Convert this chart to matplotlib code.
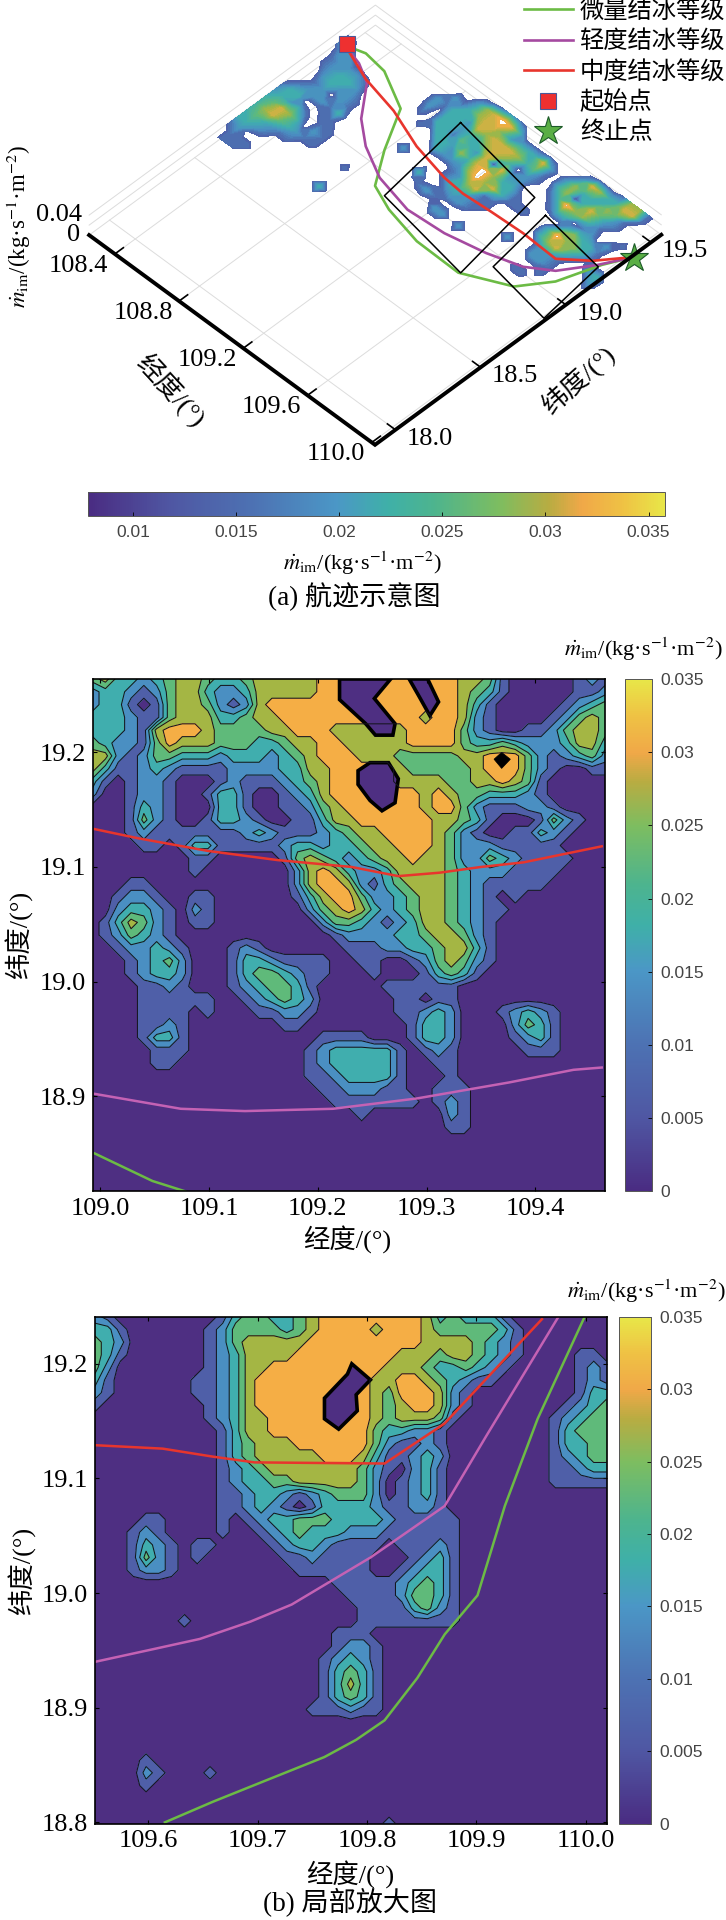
import numpy as np
import matplotlib
matplotlib.use("Agg")
import matplotlib.pyplot as plt
from matplotlib.cm import ScalarMappable
from matplotlib.colors import LinearSegmentedColormap, Normalize
from matplotlib.lines import Line2D
from matplotlib.transforms import Affine2D

plt.rcParams['font.family'] = ['Liberation Serif', 'Noto Sans CJK SC']
plt.rcParams['mathtext.fontset'] = 'stix'
plt.rcParams['axes.unicode_minus'] = False

W, H = 726, 1920
CB_LABEL = r'$\dot{m}_{\rm im}$/(kg·s$^{-1}$·m$^{-2}$)'

# ------------------------------------------------------------
# Data. One digit = one grid cell, value = digit * 0.005
# ------------------------------------------------------------
surf_lon = np.arange(38) * 0.05 + 108.2
surf_lat = 19.6 - np.arange(20) * 0.05
surf_rows = [
    "0000000000 0000001210 0000000000 01551000",
    "0000000000 0000256763 0000000265 33661000",
    "0000000000 0021356642 3336202533 35410000",
    "0000000000 0213326566 6534103503 64210000",
    "2200000000 0203323356 5302101375 53100100",
    "0220000000 0103314326 0622000133 01202000",
    "0122210000 0010332536 7533100000 35331000",
    "0123320000 0000032225 7563111003 75531000",
    "0023221000 0000000012 5611000003 56310230",
    "0012021000 0002000013 3211000000 22100020",
    "0122213000 0000003001 2210000200 22100000",
    "1330011000 0000000121 0000000000 00100000",
    "2323101100 0000000000 2202000000 11000000",
    "3465302100 0000000000 0000000000 00000000",
    "3564321100 0100000000 0000000000 00000000",
    "3432110000 0000000000 0000000000 00000000",
    "3321000000 0000000000 0000000000 00000000",
    "1200000000 0300000000 0000000000 00000000",
    "0111000000 0000000000 0000000000 00000000",
    "0110000000 0000000000 0000000000 00000000",
]

box_lon = np.linspace(108.993, 109.464, 41)
box_lat = np.linspace(19.264, 18.817, 41)
box_rows = [
    "4533234554 3345555566 6666666665 5410000012 1",
    "2332124553 2235555566 6666666665 4310000011 2",
    "2331014554 2125666666 6666666665 3100000123 4",
    "3332114555 3345566666 6666665665 2100001245 4",
    "3332156665 4444556665 5555566664 2100112455 4",
    "4322146555 4443345566 5555566664 3343222355 3",
    "5521244333 2333234566 6555444445 5666421234 2",
    "5311232111 1222233556 6666544444 5666421001 1",
    "3101221000 1211123456 6666555544 5565410000 0",
    "2001221001 3310012356 6666665654 4333210000 0",
    "0001321000 3310011245 6666665664 2111221000 0",
    "0001421001 3321001135 5666666554 3100014210 0",
    "0001211111 1123211123 4556666542 1001132100 0",
    "0000110133 1111123323 3455666542 2211111000 0",
    "0000000011 0000014543 2345565542 2432111100 0",
    "0000000010 0000002565 3223555543 2221111000 0",
    "0001100000 0000002566 5213455543 2111110000 0",
    "0012210011 0000001356 6422345543 2101000000 0",
    "0023321021 0000000245 6532345543 2110000000 0",
    "0135421011 0000000024 4321235543 2100000000 0",
    "0124321000 0000000001 2222334554 2100000000 0",
    "0012232100 0121000000 1112233455 3100000000 0",
    "0001234200 0133211110 0110012454 2100000000 0",
    "0001233200 0134432110 0010001343 1000000000 0",
    "0000112100 0123443100 0001111110 0000000000 0",
    "0000111111 0012343200 0000110110 0000000000 0",
    "0000111101 0001122100 0000112320 0012321000 0",
    "0000112100 0000011000 0000013320 0002431000 0",
    "0000133100 0000000011 1100013320 0001231000 0",
    "0000011100 0000000123 3333101210 0000111000 0",
    "0000011000 0000000123 3333100110 0000000000 0",
    "0000000000 0000000112 3333100010 0000000000 0",
    "0000000000 0000000011 2221100111 0000000000 0",
    "0000000000 0000000001 1111110121 0000000000 0",
    "0000000000 0000000000 0100000021 0000000000 0",
    "0000000000 0000000000 0000000011 0000000000 0",
    "0000000000 0000000000 0000000000 0000000000 0",
    "0000000000 0000000000 0000000000 0000000000 0",
    "0000000000 0000000000 0000000000 0000000000 0",
    "0000000000 0000000000 0000000000 0000000000 0",
    "0000000000 0000000000 0000000000 0000000000 0",
]
# low cells inside the orange, black rimmed in the picture (lon list, lat list)
box_holes = [
    ([109.220, 109.220, 109.244, 109.253, 109.269, 109.271, 109.252, 109.267],
     [19.264, 19.246, 19.225, 19.215, 19.215, 19.225, 19.247, 19.264]),
    ([109.284, 109.293, 109.303, 109.311, 109.301], [19.264, 19.249, 19.232, 19.244, 19.264]),
    ([109.248, 109.265, 109.274, 109.271, 109.259, 109.248, 109.237, 109.237],
     [19.191, 19.191, 19.177, 19.156, 19.149, 19.158, 19.172, 19.184]),
]
box_peak_lon = [109.369, 109.377, 109.369, 109.362]
box_peak_lat = [19.200, 19.194, 19.186, 19.194]

zoom_lon = np.linspace(109.551, 110.019, 41)
zoom_lat = np.linspace(19.241, 18.799, 41)
zoom_rows = [
    "2100000000 1344334566 6666665343 3310000000 0",
    "3310000001 2444434566 6656665444 4431000000 0",
    "4320000001 2455555666 6666665555 4321000000 0",
    "4310000001 2355556666 6666555455 4321000011 0",
    "4200000001 2355666666 6665554334 3210000012 1",
    "3100000011 2356666666 6655665432 1100000012 1",
    "2100000011 2356666666 6654666521 0000000013 3",
    "1000000001 2356666666 6654566521 0000000123 4",
    "0000000001 2355666666 6654555410 0000001234 4",
    "0000000000 1355666666 6643322100 0000001344 4",
    "0000000000 1345556666 6642112100 0000001334 4",
    "0000000000 1345555566 6531123200 0000001234 4",
    "0000000000 1234555555 5421023100 0000001123 3",
    "0000000000 1233445555 5420123100 0000001111 1",
    "0000000000 1123321234 4420123100 0000000000 0",
    "0000000000 1123210133 3321122100 0000000000 0",
    "0000110000 1012334443 3332111110 0000000000 0",
    "0001210000 1001234333 2221111110 0000000000 0",
    "0001321011 0000123321 1110111210 0000000000 0",
    "0001421010 0000011211 1100012310 0000000000 0",
    "0001221000 0000001111 1100123310 0000000000 0",
    "0000000000 0000000001 1111234310 0000000000 0",
    "0000000000 0000000000 1111244310 0000000000 0",
    "0000000000 0000000000 0111134210 0000000000 0",
    "0000000100 0000000000 0111111110 0000000000 0",
    "0000000000 0000000001 1100000000 0000000000 0",
    "0000000000 0000000001 2210000000 0000000000 0",
    "0000000000 0000000012 3210000000 0000000000 0",
    "0000000000 0000000013 4310000000 0000000000 0",
    "0000000000 0000000013 5310000000 0000000000 0",
    "0000000000 0000000013 4310000000 0000000000 0",
    "0000000000 0000000111 2110000000 0000000000 0",
    "0000000000 0000000000 0000000000 0000000000 0",
    "0000000000 0000000000 0000000000 0000000000 0",
    "0000000000 0000000000 0000000000 0000000000 0",
    "0000100000 0000000000 0000000000 0000000000 0",
    "0000210001 0000000000 0000000000 0000000000 0",
    "0000100000 0000000000 0000000000 0000000000 0",
    "0000000000 0000000000 0000000000 0000000000 0",
    "0000000000 0000000000 0000000000 0000000000 0",
    "0000000000 0000000000 0001000000 0000000000 0",
]
zoom_holes = [
    ([109.786, 109.803, 109.790, 109.791, 109.774, 109.761, 109.761, 109.782],
     [19.200, 19.186, 19.173, 19.159, 19.143, 19.152, 19.170, 19.191]),
]

# tracks on the overview (lon, lat)
green_lon = [108.231, 108.330, 108.463, 108.673, 108.799, 108.921, 109.065, 109.286, 109.549, 109.781, 109.889, 109.963, 110.030]
green_lat = [19.390, 19.419, 19.402, 19.300, 19.086, 18.916, 18.862, 18.817, 18.813, 18.921, 19.063, 19.266, 19.392]
purple_lon = [108.231, 108.351, 108.459, 108.593, 108.724, 108.901, 109.123, 109.338, 109.552, 109.726, 109.844, 109.949, 110.030]
purple_lat = [19.390, 19.359, 19.304, 19.144, 19.047, 18.962, 18.916, 18.930, 18.973, 19.027, 19.106, 19.252, 19.392]
red_lon = [108.231, 108.439, 108.660, 108.883, 109.103, 109.228, 109.390, 109.583, 109.793, 109.917, 110.030]
red_lat = [19.390, 19.316, 19.271, 19.196, 19.152, 19.143, 19.153, 19.161, 19.154, 19.255, 19.392]
box1_lon = [108.919, 109.468, 109.557, 108.992, 108.919]
box1_lat = [19.420, 19.338, 18.819, 18.904, 19.420]
box2_lon = [109.577, 109.960, 110.009, 109.632, 109.577]
box2_lat = [19.298, 19.247, 18.882, 18.939, 19.298]
start_lon, start_lat = 108.231, 19.399
end_lon, end_lat = 110.033, 19.389

# tracks on panel 2
p2_red_lon = [108.995, 109.035, 109.099, 109.163, 109.231, 109.274, 109.312, 109.350, 109.389, 109.461]
p2_red_lat = [19.133, 19.125, 19.114, 19.106, 19.100, 19.092, 19.095, 19.100, 19.104, 19.118]
p2_purple_lon = [108.995, 109.074, 109.133, 109.214, 109.291, 109.376, 109.435, 109.461]
p2_purple_lat = [18.902, 18.889, 18.887, 18.889, 18.898, 18.912, 18.923, 18.925]
p2_green_lon = [108.995, 109.048, 109.078]
p2_green_lat = [18.850, 18.826, 18.817]

# tracks on panel 3
p3_red_lon = [109.551, 109.613, 109.659, 109.697, 109.816, 109.871, 109.960]
p3_red_lat = [19.129, 19.126, 19.119, 19.114, 19.113, 19.148, 19.239]
p3_purple_lon = [109.551, 109.604, 109.647, 109.693, 109.731, 109.803, 109.871, 109.909, 109.975]
p3_purple_lat = [18.940, 18.951, 18.960, 18.975, 18.990, 19.031, 19.076, 19.137, 19.241]
p3_green_lon = [109.615, 109.659, 109.706, 109.761, 109.790, 109.816, 109.846, 109.871, 109.901, 109.926, 109.956, 109.999]
p3_green_lat = [18.800, 18.818, 18.836, 18.857, 18.872, 18.889, 18.926, 18.964, 18.998, 19.076, 19.152, 19.241]

map_lon_ticks = [108.4, 108.8, 109.2, 109.6, 110.0]
map_lat_ticks = [18.0, 18.5, 19.0, 19.5]
cb_ticks = [0, 0.005, 0.01, 0.015, 0.02, 0.025, 0.03, 0.035]
cb_labels = ['0', '0.005', '0.01', '0.015', '0.02', '0.025', '0.03', '0.035']
map_cb_ticks = [0.01, 0.015, 0.02, 0.025, 0.03, 0.035]
map_cb_labels = ['0.01', '0.015', '0.02', '0.025', '0.03', '0.035']

# colours
band_colors = ['#4e2f82', '#4f5fa8', '#4a8fc2', '#40aeae', '#5fba7a', '#a4b644', '#f5ae45']
bar_cmap = LinearSegmentedColormap.from_list('icing', [
    (0.0, '#4a2c82'), (0.143, '#4f57a3'), (0.286, '#4d72b3'), (0.43, '#4b97c6'),
    (0.52, '#3fb0a8'), (0.6, '#4db48e'), (0.714, '#7dbd60'), (0.8, '#b8ac42'),
    (0.857, '#f0a848'), (0.93, '#efc244'), (1.0, '#e8e648')])
surf_cmap = LinearSegmentedColormap.from_list('surf', band_colors[1:])
GREEN, PURPLE, RED = '#6cbb45', '#a54aa0', '#e8352d'
PURPLE_P = '#c462b4'
SANS = ['Liberation Sans']


def parse(rows):
    return np.array([[int(c) for c in r.replace(' ', '')] for r in rows], dtype=float) * 0.005


def px_axes(fig, left, top, right, bottom):
    return fig.add_axes([left / W, 1 - bottom / H, (right - left) / W, (bottom - top) / H])


def draw_panel(ax, lon, lat, rows, holes, xticks, yticks, xlim, ylim):
    z = parse(rows)
    levels = [-0.001] + [k * 0.005 + 0.0025 for k in range(6)] + [0.04]
    ax.contourf(lon, lat, z, levels=levels, colors=band_colors)
    ax.contour(lon, lat, z, levels=levels[1:-1], colors='#15151f', linewidths=0.75)
    for hx, hy in holes:
        ax.fill(hx, hy, facecolor=band_colors[0], edgecolor='black', lw=2.6, joinstyle='miter', clip_on=True)
    ax.set_xlim(*xlim)
    ax.set_ylim(*ylim)
    ax.set_xticks(xticks)
    ax.set_yticks(yticks)
    ax.set_xticklabels([f'{v:.1f}' for v in xticks])
    ax.set_yticklabels([f'{v:.1f}' for v in yticks])
    ax.tick_params(direction='in', top=True, right=True, length=3, width=0.8, labelsize=19, pad=5)
    for s in ax.spines.values():
        s.set_linewidth(1.2)


def draw_bar(fig, cax, vmin, vmax, ticks, labels, orientation='vertical'):
    sm = ScalarMappable(norm=Normalize(vmin, vmax), cmap=bar_cmap)
    cb = fig.colorbar(sm, cax=cax, orientation=orientation, ticks=ticks)
    cb.set_ticklabels(labels)
    cb.ax.tick_params(direction='in', length=3, width=0.6, labelsize=12.5, labelcolor='#444444', pad=6)
    for t in cb.ax.get_xticklabels() + cb.ax.get_yticklabels():
        t.set_family(SANS)
    cb.outline.set_linewidth(0.7)
    cb.outline.set_edgecolor('#555555')
    return cb


fig = plt.figure(figsize=(W / 100, H / 100), dpi=100)

# ------------------------------------------------------------
# (a) overview: pseudo 3D map on a pixel axes
# ------------------------------------------------------------
ax_map = fig.add_axes([0, 0, 1, 1], zorder=0)
LON0, LAT0, LON1, LAT1 = 108.24, 17.88, 110.02, 19.56
m = np.array([[160.6, 170.4, 0.0], [117.8, -125.0, 0.0], [0.0, 0.0, 1.0]])
m[0, 2] = 375.0 - m[0, 0] * LON1 - m[0, 1] * LAT0
m[1, 2] = 444.8 - m[1, 0] * LON1 - m[1, 1] * LAT0
to_map = Affine2D(m) + ax_map.transData


def lifted(z):
    # z axis: 0.04 is 20 pixels up the picture
    return Affine2D(m).translate(0, -20.0 * z / 0.04) + ax_map.transData


GRID = '#dcdcdc'
for v in map_lon_ticks:
    ax_map.plot([v, v], [LAT0, LAT1], color=GRID, lw=0.7, transform=to_map, zorder=1)
for v in map_lat_ticks:
    ax_map.plot([LON0, LON1], [v, v], color=GRID, lw=0.7, transform=to_map, zorder=1)
for zv in [0, 0.02, 0.04]:
    ax_map.plot([LON0, LON0, LON1], [LAT0, LAT1, LAT1], color=GRID, lw=0.7, transform=lifted(zv), zorder=1)

ax_map.contourf(surf_lon, surf_lat, parse(surf_rows) / 0.005,
                levels=np.arange(0.5, 6.51, 0.25), cmap=surf_cmap, transform=to_map, zorder=2)

ax_map.plot(green_lon, green_lat, color=GREEN, lw=1.9, transform=to_map, zorder=4)
ax_map.plot(purple_lon, purple_lat, color=PURPLE, lw=1.9, transform=to_map, zorder=4)
ax_map.plot(red_lon, red_lat, color=RED, lw=1.9, transform=to_map, zorder=5)
ax_map.plot(box1_lon, box1_lat, color='black', lw=1.1, transform=to_map, zorder=5)
ax_map.plot(box2_lon, box2_lat, color='black', lw=1.1, transform=to_map, zorder=5)
ax_map.plot([start_lon], [start_lat], 's', ms=11, mfc='#ee3030', mec='#4a5a9a', mew=0.8, transform=to_map, zorder=6)
ax_map.plot([end_lon], [end_lat], '*', ms=21, mfc='#5aae45', mec='#1c5a28', mew=0.8, transform=to_map, zorder=6)

# thick axes with ticks
ax_map.plot([LON0, LON1, LON1], [LAT0, LAT0, LAT1], color='black', lw=2.8, transform=to_map,
            solid_joinstyle='miter', zorder=7)
for v in map_lon_ticks:
    ax_map.plot([v, v], [LAT0, LAT0 + 0.05], color='black', lw=1.2, transform=to_map, zorder=7)
    ax_map.annotate(f'{v:.1f}', xy=(v, LAT0), xycoords=to_map, xytext=(-36, -12), textcoords='offset pixels',
                    ha='center', va='center', fontsize=19, annotation_clip=False)
for v in map_lat_ticks:
    ax_map.plot([LON1, LON1 - 0.05], [v, v], color='black', lw=1.2, transform=to_map, zorder=7)
    ax_map.annotate(f'{v:.1f}', xy=(LON1, v), xycoords=to_map, xytext=(34, -9), textcoords='offset pixels',
                    ha='center', va='center', fontsize=19, annotation_clip=False)

ax_map.text(82, 215, '0.04', ha='right', va='center', fontsize=19)
ax_map.text(80, 235, '0', ha='right', va='center', fontsize=19)
ax_map.text(18.5, 227, CB_LABEL, rotation=90, ha='center', va='center', fontsize=16.5)
ax_map.text(170, 391, '经度/(°)', rotation=-47, ha='center', va='center', fontsize=19, rotation_mode='anchor')
ax_map.text(578, 380, '纬度/(°)', rotation=42, ha='center', va='center', fontsize=19, rotation_mode='anchor')
ax_map.text(362, 563.5, CB_LABEL, ha='center', va='center', fontsize=16)
ax_map.text(354, 597, '(a) 航迹示意图', ha='center', va='center', fontsize=19.5)
ax_map.text(643, 649, CB_LABEL, ha='center', va='center', fontsize=16)
ax_map.text(347, 1239.5, '经度/(°)', ha='center', va='center', fontsize=19)
ax_map.text(18.5, 935, '纬度/(°)', rotation=90, ha='center', va='center', fontsize=19)
ax_map.text(646, 1291.6, CB_LABEL, ha='center', va='center', fontsize=16)
ax_map.text(350, 1875, '经度/(°)', ha='center', va='center', fontsize=19)
ax_map.text(22, 1570.6, '纬度/(°)', rotation=90, ha='center', va='center', fontsize=19)
ax_map.text(350, 1903, '(b) 局部放大图', ha='center', va='center', fontsize=19.5)

handles = [
    Line2D([], [], color=GREEN, lw=1.9),
    Line2D([], [], color=PURPLE, lw=1.9),
    Line2D([], [], color=RED, lw=1.9),
    Line2D([], [], ls='none', marker='s', ms=11, mfc='#ee3030', mec='#4a5a9a', mew=0.8),
    Line2D([], [], ls='none', marker='*', ms=21, mfc='#5aae45', mec='#1c5a28', mew=0.8),
]
ax_map.legend(handles, ['微量结冰等级', '轻度结冰等级', '中度结冰等级', '起始点', '终止点'],
              loc='upper left', bbox_to_anchor=(524 / W, 1.0), bbox_transform=fig.transFigure,
              frameon=False, fontsize=17.5, labelspacing=0.3, handlelength=2.0, handletextpad=0.3,
              borderpad=0, borderaxespad=0)

ax_map.set_xlim(0, W)
ax_map.set_ylim(H, 0)
ax_map.axis('off')

cax_a = px_axes(fig, 88, 491.5, 665, 516.4)
draw_bar(fig, cax_a, 0.0078, 0.0358, map_cb_ticks, map_cb_labels, orientation='horizontal')

# ------------------------------------------------------------
# (b) zoomed regions
# ------------------------------------------------------------
ax2 = px_axes(fig, 92.6, 679, 605, 1191.3)
draw_panel(ax2, box_lon, box_lat, box_rows, box_holes, [109.0, 109.1, 109.2, 109.3, 109.4], [18.9, 19.0, 19.1, 19.2],
           (108.993, 109.464), (18.817, 19.264))
ax2.fill(box_peak_lon, box_peak_lat, color='black', lw=0.5)
ax2.plot(p2_red_lon, p2_red_lat, color=RED, lw=1.8)
ax2.plot(p2_purple_lon, p2_purple_lat, color=PURPLE_P, lw=1.8)
ax2.plot(p2_green_lon, p2_green_lat, color=GREEN, lw=1.8)
draw_bar(fig, px_axes(fig, 625, 679, 652, 1191.3), 0, 0.035, cb_ticks, cb_labels)

ax3 = px_axes(fig, 94.9, 1316.8, 606.5, 1823.5)
draw_panel(ax3, zoom_lon, zoom_lat, zoom_rows, zoom_holes, [109.6, 109.7, 109.8, 109.9, 110.0], [18.8, 18.9, 19.0, 19.1, 19.2],
           (109.551, 110.019), (18.799, 19.241))
ax3.plot(p3_red_lon, p3_red_lat, color=RED, lw=1.8)
ax3.plot(p3_purple_lon, p3_purple_lat, color=PURPLE_P, lw=1.8)
ax3.plot(p3_green_lon, p3_green_lat, color=GREEN, lw=1.8)
draw_bar(fig, px_axes(fig, 619, 1316.8, 651.4, 1823.5), 0, 0.035, cb_ticks, cb_labels)

fig.savefig('out.png', dpi=100)
